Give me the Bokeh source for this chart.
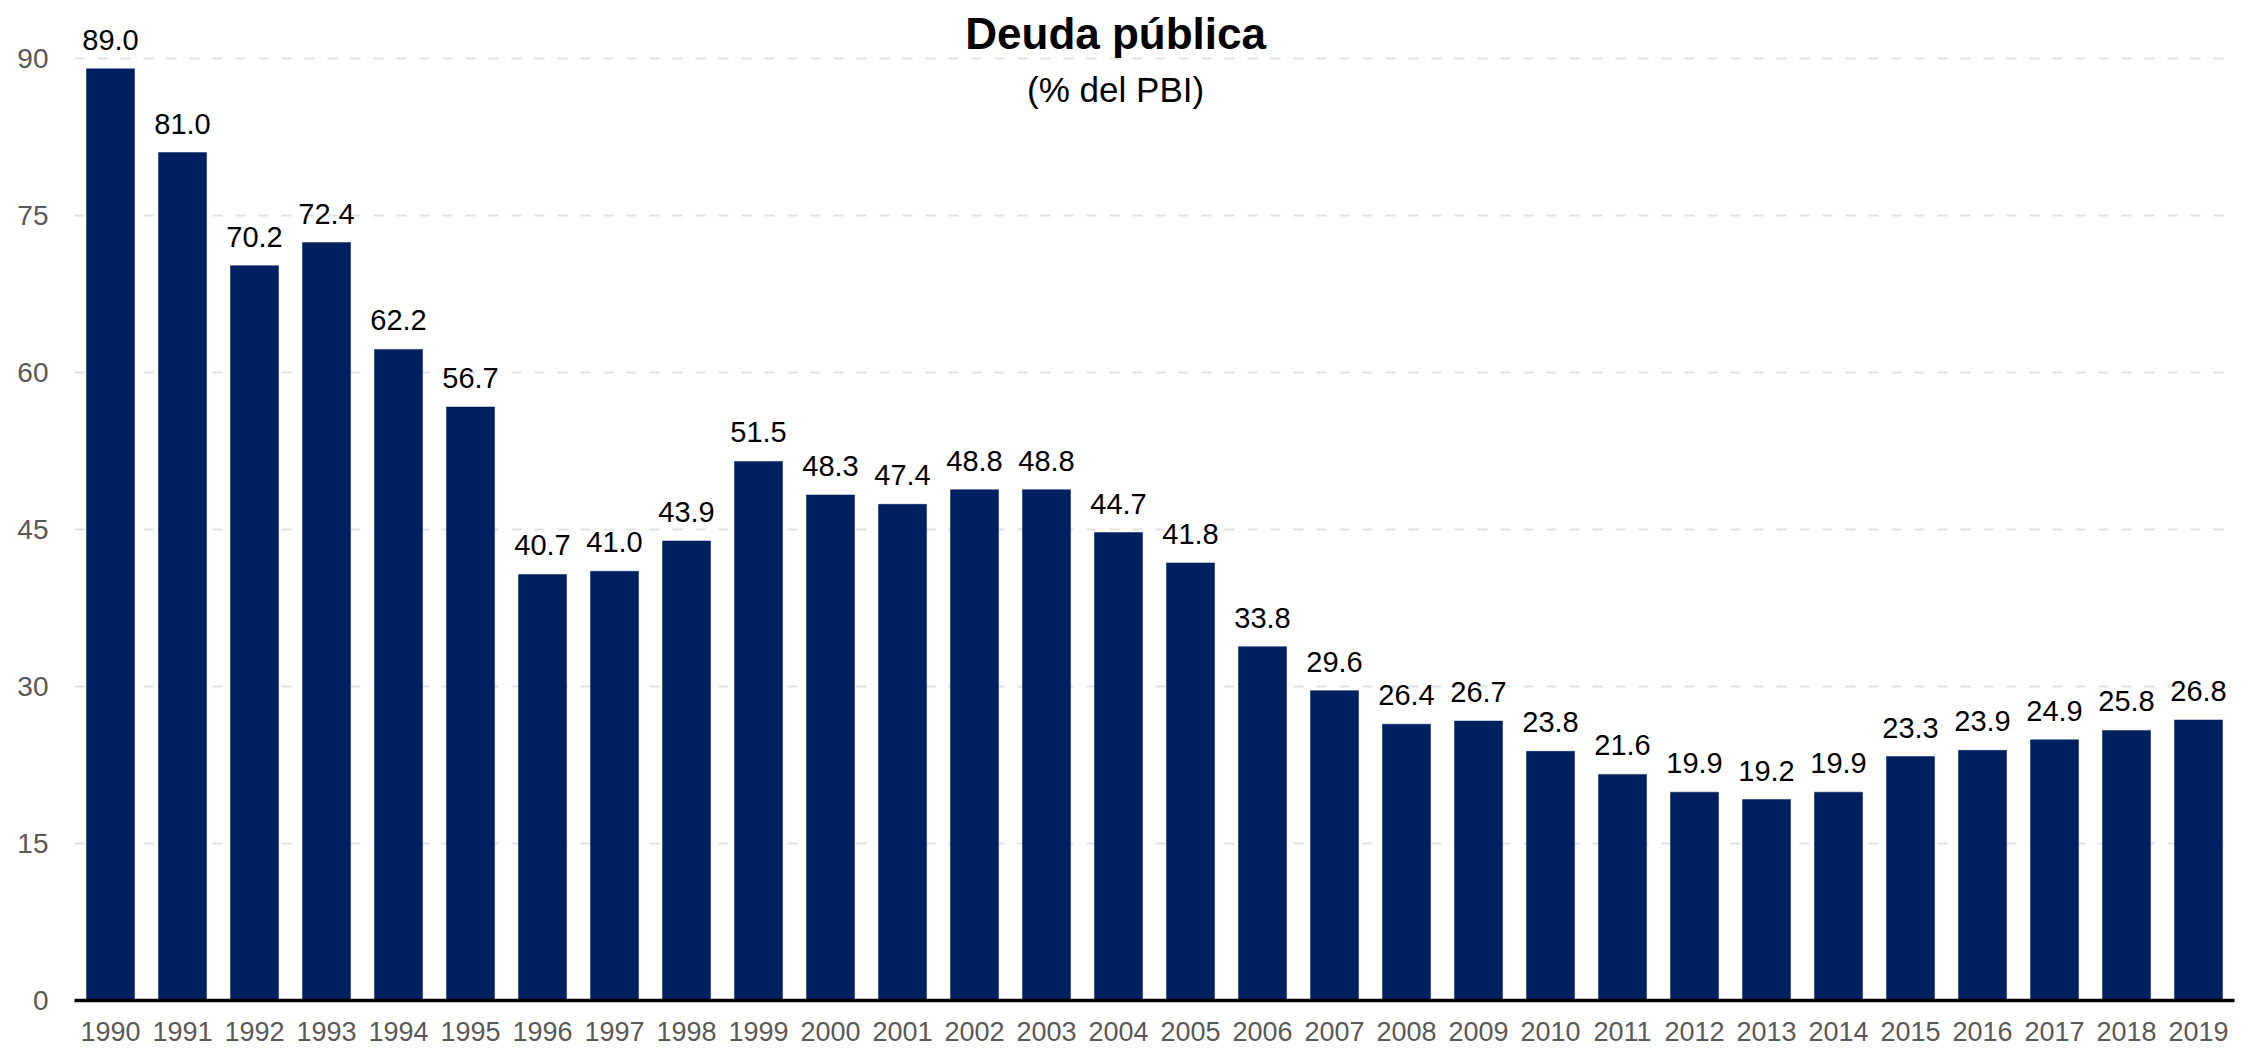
from bokeh.plotting import figure
from bokeh.models import ColumnDataSource, Label, FixedTicker, Range1d
from bokeh.core.properties import value
from bokeh.embed import file_html
from bokeh.resources import INLINE

years = [str(y) for y in range(1990, 2020)]
deuda = [89.0, 81.0, 70.2, 72.4, 62.2, 56.7, 40.7, 41.0, 43.9, 51.5,
         48.3, 47.4, 48.8, 48.8, 44.7, 41.8, 33.8, 29.6, 26.4, 26.7,
         23.8, 21.6, 19.9, 19.2, 19.9, 23.3, 23.9, 24.9, 25.8, 26.8]
y_ticks = [0, 15, 30, 45, 60, 75, 90]
title_text = "Deuda pública"
subtitle_text = "(% del PBI)"

FONT = "'Liberation Sans', Arial, sans-serif"
NAVY = "#002060"

src = ColumnDataSource(dict(year=years, val=deuda, lbl=[f"{v:.1f}" for v in deuda]))

p = figure(x_range=years, y_range=Range1d(0, 94), width=2238, height=1052,
           output_backend="svg", toolbar_location=None,
           min_border_left=74, min_border_right=4, min_border_top=16, min_border_bottom=52)
p.x_range.range_padding = 0
p.outline_line_color = None
p.background_fill_color = "white"

p.vbar(x="year", top="val", width=0.667, source=src, fill_color=NAVY, line_color=NAVY, line_width=0.5)
p.text(x="year", y="val", text="lbl", source=src, text_align="center", text_baseline="alphabetic",
       y_offset=-29, text_font=value(FONT), text_font_size="29px", text_color="black")

p.xgrid.grid_line_color = None
p.ygrid.grid_line_color = "#e2e2e2"
p.ygrid.grid_line_width = 2
p.ygrid.grid_line_dash = "10 13"
p.ygrid.ticker = FixedTicker(ticks=y_ticks)

p.yaxis.ticker = FixedTicker(ticks=y_ticks)
p.yaxis.axis_line_color = None
p.yaxis.major_tick_line_color = None
p.yaxis.minor_tick_line_color = None
p.yaxis.major_tick_out = 0
p.yaxis.major_label_standoff = 26
p.yaxis.major_label_text_font = FONT
p.yaxis.major_label_text_font_size = "28px"
p.yaxis.major_label_text_color = "#595959"

p.xaxis.axis_line_color = "black"
p.xaxis.axis_line_width = 3.5
p.xaxis.major_tick_line_color = None
p.xaxis.major_tick_out = 0
p.xaxis.major_label_standoff = 21
p.xaxis.major_label_text_font = FONT
p.xaxis.major_label_text_font_size = "27px"
p.xaxis.major_label_text_color = "#595959"

p.add_layout(Label(x=14.46, y=92.4, text=title_text, text_align="center", text_baseline="alphabetic",
                   text_font=FONT, text_font_size="44px", text_font_style="bold", text_color="black"))
p.add_layout(Label(x=14.46, y=87.0, text=subtitle_text, text_align="center", text_baseline="alphabetic",
                   text_font=FONT, text_font_size="35px", text_color="black"))

open("out.html", "w").write(file_html(p, INLINE))
